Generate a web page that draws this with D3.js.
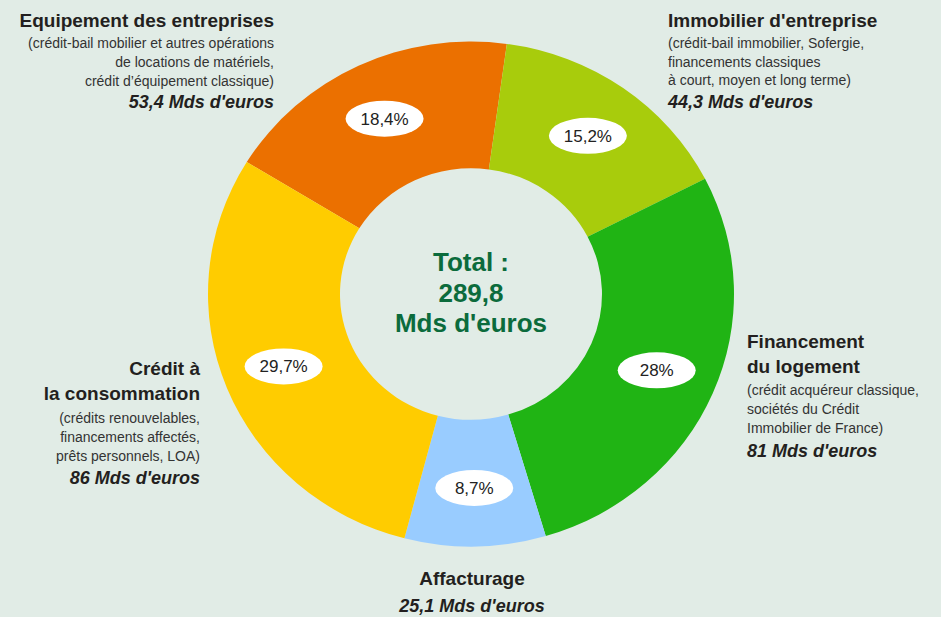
<!DOCTYPE html>
<html>
<head>
<meta charset="utf-8">
<script src="https://cdn.jsdelivr.net/npm/d3@7"></script>
<style>
  html, body { margin: 0; padding: 0; background: #e1ece6; }
  svg { display: block; font-family: "Liberation Sans", Arial, Helvetica, sans-serif; }
</style>
</head>
<body>
<svg id="chart" width="941" height="617"></svg>
<script>
// ---- Data ----
const categories = ["Equipement des entreprises", "Immobilier d'entreprise", "Financement du logement", "Affacturage", "Crédit à la consommation"];
const amounts = [53.4, 44.3, 81, 25.1, 86];            // Mds d'euros
const percentLabels = ["18,4%", "15,2%", "28%", "8,7%", "29,7%"];
const amountLabels = ["53,4 Mds d'euros", "44,3 Mds d'euros", "81 Mds d'euros", "25,1 Mds d'euros", "86 Mds d'euros"];
const titleLines = [
  ["Equipement des entreprises"],
  ["Immobilier d'entreprise"],
  ["Financement", "du logement"],
  ["Affacturage"],
  ["Crédit à", "la consommation"]
];
const detailLines = [
  ["(crédit-bail mobilier et autres opérations", "de locations de matériels,", "crédit d\u2019équipement classique)"],
  ["(crédit-bail immobilier, Sofergie,", "financements classiques", "à court, moyen et long terme)"],
  ["(crédit acquéreur classique,", "sociétés du Crédit", "Immobilier de France)"],
  [],
  ["(crédits renouvelables,", "financements affectés,", "prêts personnels, LOA)"]
];
const totalLines = ["Total :", "289,8", "Mds d'euros"];
const colors = ["#eb7000", "#a8cc0c", "#20b414", "#99ccff", "#ffcc00"];

// ---- Layout ----
const svg = d3.select("#chart");
const cx = 471, cy = 294, rOuter = 263, rInner = 131, yScale = 0.96;
const startA = -58.5 * Math.PI / 180;

const pie = d3.pie().sort(null).value(d => d.v)
  .startAngle(startA).endAngle(startA + 2 * Math.PI);
const data = amounts.map((v, i) => ({ v, i }));
const arcs = pie(data);
const arc = d3.arc().innerRadius(rInner).outerRadius(rOuter);

const g = svg.append("g").attr("transform", `translate(${cx},${cy}) scale(1,${yScale})`);
g.selectAll("path").data(arcs).enter().append("path")
  .attr("d", arc)
  .attr("fill", d => colors[d.data.i]);

// percent labels in white ellipses
const labelArc = d3.arc().innerRadius(202).outerRadius(202);
const lab = svg.append("g").attr("transform", `translate(${cx},${cy})`);
arcs.forEach(d => {
  const [x, y0] = labelArc.centroid(d);
  const y = y0 * yScale;
  lab.append("ellipse").attr("cx", x).attr("cy", y).attr("rx", 39).attr("ry", 18).attr("fill", "#ffffff");
  lab.append("text").attr("x", x).attr("y", y + 6).attr("text-anchor", "middle")
    .attr("font-size", 17).attr("fill", "#222").text(percentLabels[d.data.i]);
});

// center total
svg.append("g").selectAll("text").data(totalLines).enter().append("text")
  .attr("x", cx).attr("y", (d, i) => 271 + i * 30.5)
  .attr("text-anchor", "middle").attr("font-weight", "bold").attr("font-size", 26)
  .attr("fill", "#0b6b3c").text(d => d);

// category text blocks
const blocks = [
  { x: 274, anchor: "end",    title: [27],      detail: [48, 67, 86],   value: 108 },
  { x: 668, anchor: "start",  title: [27],      detail: [48, 67, 85],   value: 108 },
  { x: 747, anchor: "start",  title: [348, 373],detail: [395, 414, 433],value: 457 },
  { x: 472, anchor: "middle", title: [585],     detail: [],             value: 612 },
  { x: 200, anchor: "end",    title: [375, 400],detail: [423, 442, 461],value: 484 }
];
blocks.forEach((b, i) => {
  const tg = svg.append("g").attr("text-anchor", b.anchor);
  titleLines[i].forEach((t, j) => {
    tg.append("text").attr("x", b.x).attr("y", b.title[j])
      .attr("font-weight", "bold").attr("font-size", 19).attr("fill", "#231f20").text(t);
  });
  detailLines[i].forEach((t, j) => {
    tg.append("text").attr("x", b.x).attr("y", b.detail[j])
      .attr("font-size", 14).attr("fill", "#333").text(t);
  });
  tg.append("text").attr("x", b.x).attr("y", b.value)
    .attr("font-weight", "bold").attr("font-style", "italic").attr("font-size", 18)
    .attr("fill", "#231f20").text(amountLabels[i]);
});
</script>
</body>
</html>
